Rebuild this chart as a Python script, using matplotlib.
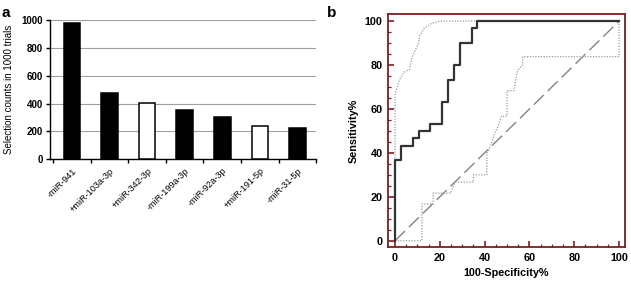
import matplotlib
matplotlib.use('Agg')
import matplotlib.pyplot as plt
import matplotlib.ticker as mticker
import numpy as np

plt.rcParams['font.family'] = ['Liberation Sans', 'DejaVu Sans']

# Panel a: selection counts
mirnas = ['-miR-941', '+miR-103a-3p', '+miR-342-3p', '-miR-199a-3p',
          '-miR-92a-3p', '+miR-191-5p', '-miR-31-5p']
counts = [980, 474, 406, 352, 305, 237, 226]
bar_fill = ['black', 'black', 'white', 'black', 'black', 'white', 'black']

# Panel b: ROC curve with confidence bounds
roc_x = [0, 0, 2.6, 2.6, 7.9, 7.9, 10.5, 10.5, 15.8, 15.8, 21.0, 21.0, 23.7, 23.7,
         26.3, 26.3, 28.9, 28.9, 34.2, 34.2, 36.8, 36.8, 100]
roc_y = [0, 36.7, 36.7, 43.3, 43.3, 46.7, 46.7, 50.0, 50.0, 53.3, 53.3, 63.3, 63.3, 73.3,
         73.3, 80.0, 80.0, 90.0, 90.0, 96.7, 96.7, 100, 100]
upper_x = [0, 0, 1, 2, 4, 6.5, 7.5, 9, 10.5, 11, 13, 16, 20, 100]
upper_y = [0, 66.7, 70, 73.3, 76.7, 78, 83.3, 86.7, 90, 93.3, 96.7, 98.8, 100, 100]
lower_x = [0, 12, 12, 17, 17, 25, 26, 27, 35, 35, 41, 41, 43, 44.5, 46, 47.5, 50,
           50, 53, 54.5, 55.5, 57, 57, 100, 100]
lower_y = [0, 0, 16.7, 16.7, 21.7, 21.7, 25, 26.7, 26.7, 30, 30, 40, 44, 49, 52, 56.7, 56.7,
           68.3, 68.3, 76.7, 78.5, 80, 83.8, 83.8, 100]

fig = plt.figure(figsize=(6.31, 2.87), dpi=100)

# ---- panel a
ax1 = fig.add_axes([0.079, 0.445, 0.422, 0.485])
pos = np.arange(len(mirnas))
ax1.bar(pos, counts, width=0.44, color=bar_fill, edgecolor='black', linewidth=1.1, zorder=3)
ax1.set_xlim(-0.59, len(mirnas) - 0.5)
ax1.set_ylim(0, 1000)
ax1.set_yticks([0, 200, 400, 600, 800, 1000])
ax1.yaxis.grid(True, color='#a0a0a0', linewidth=0.8, zorder=0)
for s in ['top', 'right']:
    ax1.spines[s].set_visible(False)
ax1.spines['left'].set_linewidth(1.0)
ax1.spines['bottom'].set_linewidth(1.0)
ax1.set_xticks(pos)
ax1.set_xticklabels(mirnas, rotation=45, ha='right', rotation_mode='anchor',
                    fontsize=6.6)
ax1.tick_params(axis='x', length=0, pad=5)
ax1.xaxis.set_minor_locator(mticker.FixedLocator(np.arange(-0.5, len(mirnas), 1.0)))
ax1.tick_params(axis='x', which='minor', length=3, width=1.0, direction='out')
ax1.tick_params(axis='y', length=3, width=1.0, labelsize=7, pad=2)
for lab in ax1.get_yticklabels():
    lab.set_fontweight('bold')
ax1.set_ylabel('Selection counts in 1000 trials', fontsize=7, labelpad=5)
fig.text(0.003, 0.955, 'a', fontsize=11, fontweight='bold', va='center')

# ---- panel b
frame = '#7a1f1f'
ax2 = fig.add_axes([0.615, 0.139, 0.375, 0.812])
ax2.plot([0, 100], [0, 100], color='#8c7f7f', linewidth=1.0, dashes=(10, 4))
ax2.plot(upper_x, upper_y, color='#999999', linewidth=0.9, dashes=(1, 1.2))
ax2.plot(lower_x, lower_y, color='#999999', linewidth=0.9, dashes=(1, 1.2))
ax2.plot(roc_x, roc_y, color='#333333', linewidth=1.6)
ax2.set_xlim(-3.1, 102.5)
ax2.set_ylim(-2.9, 103.2)
ax2.xaxis.set_major_locator(mticker.MultipleLocator(20))
ax2.yaxis.set_major_locator(mticker.MultipleLocator(20))
ax2.xaxis.set_minor_locator(mticker.MultipleLocator(5))
ax2.yaxis.set_minor_locator(mticker.MultipleLocator(5))
for s in ax2.spines.values():
    s.set_color(frame)
    s.set_linewidth(1.3)
ax2.tick_params(which='major', direction='in', length=4, width=1.2, color=frame,
                labelsize=7.8, pad=4)
ax2.tick_params(which='minor', direction='in', length=2.5, width=0.9, color=frame)
for lab in ax2.get_xticklabels() + ax2.get_yticklabels():
    lab.set_fontweight('bold')
ax2.set_xlabel('100-Specificity%', fontsize=7.8, fontweight='bold', labelpad=4)
ax2.set_ylabel('Sensitivity%', fontsize=7.8, fontweight='bold', labelpad=4)
fig.text(0.518, 0.955, 'b', fontsize=11, fontweight='bold', va='center')

plt.savefig('out.png', dpi=100, facecolor='white')
plt.close()
